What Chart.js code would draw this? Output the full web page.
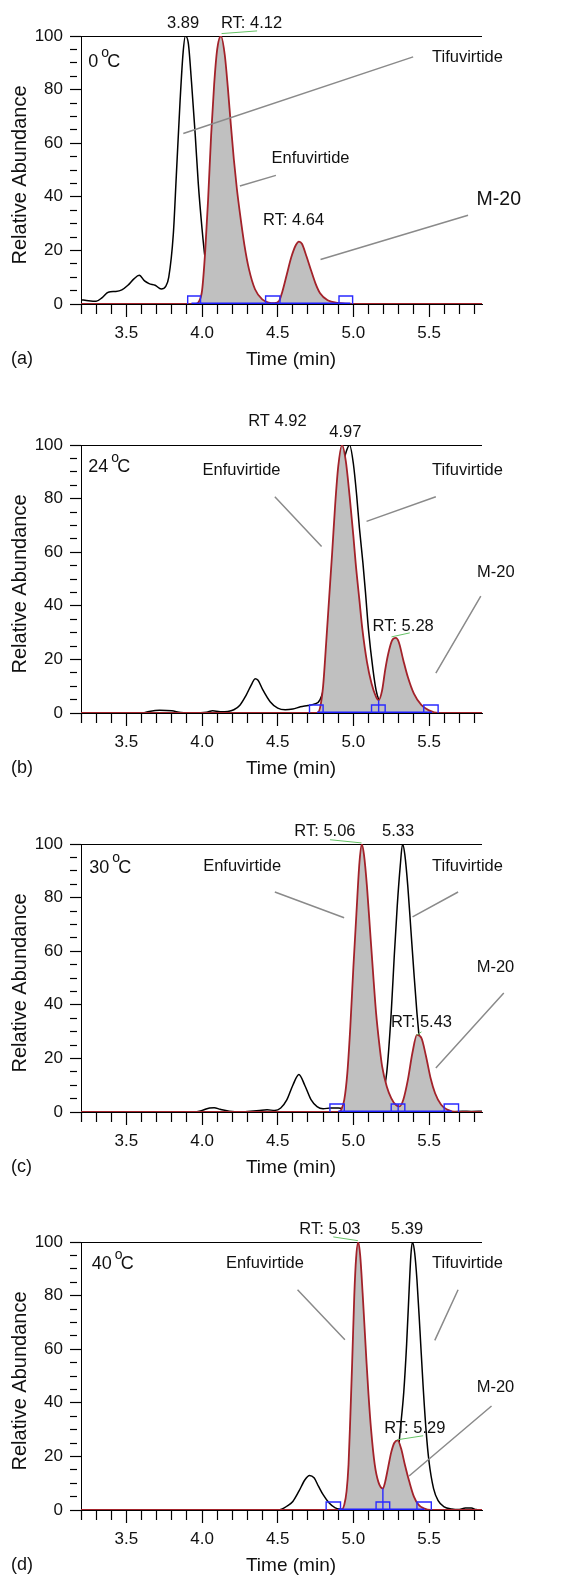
<!DOCTYPE html>
<html><head><meta charset="utf-8">
<script src="https://cdn.jsdelivr.net/npm/chart.js@4.4.1/dist/chart.umd.min.js"></script>
<style>
html,body{margin:0;padding:0;background:#fff;}
body{width:579px;height:1577px;overflow:hidden;position:relative;}
.panel{position:absolute;left:0;width:579px;height:400px;}
canvas{display:block;}
</style></head><body>
<div class="panel" style="top:0px"><canvas id="ca" width="579" height="400"></canvas></div>
<div class="panel" style="top:409px"><canvas id="cb" width="579" height="400"></canvas></div>
<div class="panel" style="top:808px"><canvas id="cc" width="579" height="400"></canvas></div>
<div class="panel" style="top:1206px"><canvas id="cd" width="579" height="400"></canvas></div>
<script>
// ---------- DATA (time in min, relative abundance in %) ----------
const timeRange = [3.2, 5.85];
const abundanceRange = [0, 100];

// (a) 0 °C
const tifuA = [[3.20,1.6],[3.25,1.2],[3.30,1.0],[3.34,2.4],[3.38,4.4],[3.43,4.7],[3.47,5.3],[3.51,7.0],[3.55,9.4],[3.585,10.7],[3.62,8.6],[3.65,7.6],[3.69,7.0],[3.73,5.6],[3.76,6.6],[3.78,10],[3.81,26],[3.83,48],[3.855,76],[3.875,94],[3.89,100],[3.91,97],[3.93,83],[3.955,63],[3.975,45],[4.00,28],[4.02,17],[4.05,7],[4.08,2],[4.11,0.4],[4.15,0],[5.85,0]];
const enfA = [[3.20,0],[3.96,0],[3.98,1],[4.00,5],[4.02,19],[4.04,39],[4.06,63],[4.08,82],[4.10,95],[4.125,100],[4.15,93],[4.17,81],[4.19,67],[4.21,54],[4.23,43],[4.25,34],[4.28,22],[4.31,13],[4.35,5.5],[4.40,1.6],[4.44,0.5],[4.48,0.3],[4.51,1.2],[4.53,4.5],[4.56,11],[4.59,17.5],[4.62,22],[4.64,23.3],[4.66,22.5],[4.69,17.8],[4.72,12.6],[4.75,7.6],[4.78,4],[4.83,1.4],[4.90,0.4],[5.00,0],[5.85,0]];
const boxesA = [[3.905,3.99],[4.42,4.515],[4.905,4.995]];
const valleyA = null;
const baselineA = [3.93, 4.98];
const labelsA = ['3.89','RT: 4.12','RT: 4.64'];

// (b) 24 °C
const tifuB = [[3.20,0],[3.60,0],[3.65,0.6],[3.72,1.0],[3.80,0.8],[3.86,0.2],[3.95,0],[4.03,0.3],[4.07,0.8],[4.12,0.5],[4.17,0.6],[4.21,1.2],[4.25,2.9],[4.29,6.5],[4.33,11],[4.35,12.8],[4.37,12.2],[4.40,8.8],[4.45,4.2],[4.50,1.8],[4.55,1.2],[4.60,1.5],[4.65,2.3],[4.70,2.8],[4.74,3.3],[4.78,5],[4.82,14],[4.86,38],[4.90,75],[4.93,92],[4.95,97],[4.975,100],[5.00,93],[5.022,81],[5.04,69],[5.063,56],[5.08,45],[5.10,31],[5.13,16],[5.15,8.5],[5.167,5],[5.19,3],[5.24,1],[5.30,0],[5.85,0]];
const enfB = [[3.20,0],[4.76,0],[4.78,2],[4.80,10],[4.82,26],[4.84,43],[4.86,60],[4.88,78],[4.90,92],[4.925,100],[4.95,94],[4.975,81],[5.00,66],[5.015,56],[5.04,42],[5.06,31],[5.09,19],[5.12,11],[5.15,6],[5.167,4.8],[5.19,8.5],[5.21,16],[5.23,22],[5.255,27],[5.28,28],[5.30,26.5],[5.33,19.7],[5.36,13.4],[5.40,7.2],[5.45,2.9],[5.50,1],[5.56,0],[5.85,0]];
const boxesB = [[4.71,4.80],[5.12,5.21],[5.465,5.56]];
const valleyB = [5.167, 4.8];
const baselineB = [4.76, 5.52];
const labelsB = ['RT 4.92','4.97','RT: 5.28'];

// (c) 30 °C
const tifuC = [[3.20,0],[3.95,0],[4.00,0.6],[4.05,1.5],[4.08,1.6],[4.12,1.0],[4.18,0.3],[4.25,0],[4.30,0.2],[4.38,0.6],[4.43,0.8],[4.48,0.6],[4.52,1.5],[4.56,4.5],[4.60,10],[4.64,14],[4.68,9.8],[4.72,4.6],[4.76,2],[4.80,1.2],[4.85,1.5],[4.90,1.5],[4.95,1.2],[5.00,1],[5.10,1.5],[5.16,3],[5.19,6],[5.22,14.5],[5.25,37],[5.27,58],[5.29,77],[5.31,92],[5.325,100],[5.34,96],[5.36,84],[5.38,68],[5.40,52],[5.42,37],[5.44,24.5],[5.46,14.5],[5.49,7],[5.52,2.7],[5.56,0.9],[5.60,0.2],[5.65,0],[5.72,0.3],[5.78,0.2],[5.85,0.3]];
const enfC = [[3.20,0],[4.90,0],[4.92,0.9],[4.94,4.6],[4.96,14.5],[4.98,32],[5.00,54],[5.02,74],[5.04,93],[5.055,100],[5.07,96],[5.09,84],[5.11,68],[5.13,52],[5.15,37],[5.17,26],[5.19,17],[5.22,9.6],[5.25,5.2],[5.28,2.7],[5.305,2.1],[5.33,4.6],[5.36,12],[5.39,22],[5.42,28.8],[5.45,27.6],[5.48,20.8],[5.51,12.7],[5.54,7],[5.58,2.7],[5.62,0.9],[5.68,0],[5.85,0]];
const boxesC = [[4.845,4.94],[5.25,5.34],[5.60,5.695]];
const valleyC = [5.296, 3];
const baselineC = [4.90, 5.65];
const labelsC = ['RT: 5.06','5.33','RT: 5.43'];

// (d) 40 °C
const tifuD = [[3.20,0],[4.50,0],[4.53,0.4],[4.56,1.4],[4.60,3.2],[4.64,7],[4.68,11.3],[4.71,12.9],[4.74,12],[4.77,8.8],[4.80,5.7],[4.84,2.6],[4.88,0.8],[4.92,0.3],[5.00,0],[5.12,0],[5.18,1],[5.23,3],[5.26,8],[5.29,18],[5.31,30],[5.333,44],[5.352,62],[5.37,84],[5.38,95],[5.39,100],[5.405,96],[5.42,86],[5.44,67],[5.46,47],[5.48,30],[5.50,18],[5.53,8],[5.56,3.5],[5.60,1.2],[5.65,0.4],[5.70,0.2],[5.74,0.7],[5.78,0.7],[5.81,0.2],[5.85,0]];
const enfD = [[3.20,0],[4.92,0],[4.94,2],[4.955,7],[4.968,17],[4.98,35],[4.992,55],[5.006,80],[5.018,94],[5.032,100],[5.045,95],[5.061,81],[5.074,68],[5.087,55],[5.10,43],[5.117,30],[5.141,17],[5.165,10.5],[5.195,8],[5.21,10.5],[5.23,16],[5.25,21.5],[5.27,25],[5.293,26],[5.315,23],[5.34,17],[5.37,10.5],[5.40,5],[5.43,2],[5.47,0.5],[5.51,0],[5.85,0]];
const boxesD = [[4.82,4.915],[5.15,5.24],[5.42,5.515]];
const valleyD = [5.195, 8];
const baselineD = [4.90, 5.47];
const labelsD = ['RT: 5.03','5.39','RT: 5.29'];

const panelLetters = ['(a)','(b)','(c)','(d)'];
const temperatures = ['0','24','30','40'];
const compoundNames = ['Tifuvirtide','Enfuvirtide','M-20'];

// ---------- LAYOUT (annotation anchors in data coordinates) ----------
const layouts = [
  { peakPos:[[3.875,104.6],[4.327,104.6],[4.605,31.2]], namePos:[[5.754,92.0],[4.717,54.3],[5.961,39.1]], m20Size:19.5,
    leaders:[[[3.876,63.6],[5.395,92.2]],[[4.250,44.0],[4.488,48.0]],[[4.783,16.6],[5.758,33.1]]],
    greens:[[[4.129,100.9],[4.364,101.9]]], tempPos:[3.248,90.3] },
  { peakPos:[[4.498,108.7],[4.947,104.6],[5.329,32.4]], namePos:[[5.754,90.6],[4.261,90.6],[5.941,52.3]], m20Size:16.5,
    leaders:[[[5.545,80.7],[5.087,71.5]],[[4.481,80.7],[4.790,62.1]],[[5.842,43.6],[5.545,14.9]]],
    greens:[[[5.252,28.4],[5.373,29.9]]], tempPos:[3.248,91.8] },
  { peakPos:[[4.812,104.7],[5.296,104.7],[5.450,33.4]], namePos:[[5.754,91.7],[4.265,91.7],[5.939,54.1]], m20Size:16.5,
    leaders:[[[5.692,82.1],[5.391,72.8]],[[4.481,82.1],[4.939,72.5]],[[5.994,44.4],[5.545,16.4]]],
    greens:[[[4.845,101.6],[5.054,100.4]],[[5.417,28.6],[5.45,29.9]]], tempPos:[3.255,91.2] },
  { peakPos:[[4.845,104.6],[5.355,104.6],[5.406,30.6]], namePos:[[5.754,92.1],[4.415,92.1],[5.939,45.6]], m20Size:16.5,
    leaders:[[[5.692,82.2],[5.538,63.3]],[[4.631,82.2],[4.944,63.5]],[[5.913,38.8],[5.368,12.7]]],
    greens:[[[4.867,101.9],[5.03,100.5]],[[5.29,26.2],[5.461,27.7]]], tempPos:[3.271,91.9] }
];

const series = [
  {tifu:tifuA, enf:enfA, boxes:boxesA, valley:valleyA, baseline:baselineA, peaks:labelsA},
  {tifu:tifuB, enf:enfB, boxes:boxesB, valley:valleyB, baseline:baselineB, peaks:labelsB},
  {tifu:tifuC, enf:enfC, boxes:boxesC, valley:valleyC, baseline:baselineC, peaks:labelsC},
  {tifu:tifuD, enf:enfD, boxes:boxesD, valley:valleyD, baseline:baselineD, peaks:labelsD}
];

const FONT = '"Liberation Sans", Arial, Helvetica, sans-serif';
Chart.defaults.font.family = FONT;
const BOX_H = 3;

const toXY = arr => arr.map(([x,y]) => ({x, y}));
function segs(list){ const out=[]; list.forEach(s=>{ out.push({x:s[0][0],y:s[0][1]},{x:s[1][0],y:s[1][1]},{x:s[1][0],y:null}); }); return out; }
function boxPts(boxes, valley){
  const out=[];
  boxes.forEach(([a,b])=>{ out.push({x:a,y:0},{x:a,y:BOX_H},{x:b,y:BOX_H},{x:b,y:0},{x:b,y:null}); });
  if (valley){ out.push({x:valley[0],y:0},{x:valley[0],y:valley[1]},{x:valley[0],y:null}); }
  return out;
}
const isMajorX = v => Math.abs(v*2 - Math.round(v*2)) < 1e-6;
const isMajorY = v => Math.abs(v/20 - Math.round(v/20)) < 1e-6;

const annot = {
  id:'annot',
  afterDatasetsDraw(chart, args, opts){
    const {ctx, chartArea:ca, scales:{x, y}} = chart;
    const i = opts.idx, L = layouts[i], S = series[i];
    const px = v => x.getPixelForValue(v), py = v => y.getPixelForValue(v);
    ctx.save();
    ctx.fillStyle = '#111';
    ctx.textBaseline = 'middle';
    ctx.textAlign = 'center';
    ctx.font = '16.5px ' + FONT;
    S.peaks.forEach((t,k)=>{ ctx.fillText(t, px(L.peakPos[k][0]), py(L.peakPos[k][1])); });
    compoundNames.forEach((t,k)=>{
      ctx.font = (k===2 ? L.m20Size : 16.5) + 'px ' + FONT;
      ctx.fillText(t, px(L.namePos[k][0]), py(L.namePos[k][1]));
    });
    // temperature
    const tx = px(L.tempPos[0]), ty = py(L.tempPos[1]);
    ctx.textAlign = 'left';
    ctx.font = '18px ' + FONT;
    ctx.fillText(temperatures[i], tx, ty);
    const w = ctx.measureText(temperatures[i]).width;
    ctx.font = '14px ' + FONT;
    ctx.fillText('o', tx + w + 3, ty - 9);
    ctx.font = '18px ' + FONT;
    ctx.fillText('C', tx + w + 9, ty);
    // axis titles & panel letter
    ctx.textAlign = 'center';
    ctx.font = '19px ' + FONT;
    ctx.fillText('Time (min)', 291, ca.bottom + 56);
    ctx.textAlign = 'left';
    ctx.font = '18px ' + FONT;
    ctx.fillText(panelLetters[i], 11, ca.bottom + 55);
    ctx.save();
    ctx.translate(20, (ca.top + ca.bottom)/2 + 5);
    ctx.rotate(-Math.PI/2);
    ctx.textAlign = 'center';
    ctx.font = '20px ' + FONT;
    ctx.fillText('Relative Abundance', 0, 0);
    ctx.restore();
    ctx.restore();
  }
};

['ca','cb','cc','cd'].forEach((id, i) => {
  const S = series[i], L = layouts[i];
  const datasets = [
    { label:'Tifuvirtide', data: toXY(S.tifu), borderColor:'#000', borderWidth:1.5, pointRadius:0, fill:false, cubicInterpolationMode:'monotone', order:5 },
    { label:'Enfuvirtide / M-20', data: toXY(S.enf), borderColor:'#a3222a', borderWidth:1.8, pointRadius:0, fill:'origin', backgroundColor:'#c0c0c0', cubicInterpolationMode:'monotone', order:4 },
    { label:'baseline', data: [{x:S.baseline[0],y:0.2},{x:S.baseline[1],y:0.2}], borderColor:'#1f1fff', borderWidth:2, pointRadius:0, fill:false, order:3 },
    { label:'peak limits', data: boxPts(S.boxes, S.valley), borderColor:'#2a2aff', borderWidth:1.4, pointRadius:0, fill:false, tension:0, spanGaps:false, order:2 },
    { label:'leaders', data: segs(L.leaders), borderColor:'#8a8a8a', borderWidth:1.5, pointRadius:0, fill:false, tension:0, spanGaps:false, clip:false, order:1 },
    { label:'rt marks', data: segs(L.greens), borderColor:'#66c266', borderWidth:1, pointRadius:0, fill:false, tension:0, spanGaps:false, clip:false, order:1 }
  ];
  new Chart(document.getElementById(id), {
    type:'line',
    data:{ datasets },
    options:{
      responsive:false, animation:false, events:[],
      layout:{ padding:{ left:0, right:97, top:36, bottom:0 } },
      plugins:{ legend:{display:false}, tooltip:{enabled:false}, annot:{ idx:i } },
      scales:{
        x:{ type:'linear', min:timeRange[0], max:timeRange[1], bounds:'data',
            afterFit(s){ s.height = 96; },
            border:{ display:true, color:'#000', width:1 },
            grid:{ drawOnChartArea:false, drawTicks:true, tickLength:13, tickColor:'#000', tickWidth:1.2,
                   tickBorderDash: c => (c.tick && !isMajorX(c.tick.value)) ? [9, 40] : [] },
            ticks:{ stepSize:0.1, autoSkip:false, includeBounds:false, maxRotation:0, minRotation:0, padding:6,
                    color:'#111', font:{ family:FONT, size:17 },
                    callback: v => isMajorX(v) ? v.toFixed(1) : '' } },
        y:{ type:'linear', min:abundanceRange[0], max:abundanceRange[1], bounds:'data',
            afterFit(s){ s.width = 81; },
            border:{ display:true, color:'#000', width:1 },
            grid:{ drawOnChartArea:true, drawTicks:true, tickLength:11, tickWidth:1.2, tickColor:'#000',
                   color: c => (c.tick && c.tick.value === 100) ? '#000' : 'rgba(0,0,0,0)',
                   lineWidth: 1,
                   tickBorderDash: c => (c.tick && !isMajorY(c.tick.value)) ? [7, 40] : [] },
            ticks:{ stepSize:5, autoSkip:false, padding:7, color:'#111', font:{ family:FONT, size:17 },
                    callback: v => isMajorY(v) ? String(v) : '' } }
      }
    },
    plugins:[annot]
  });
});
</script>
</body></html>
